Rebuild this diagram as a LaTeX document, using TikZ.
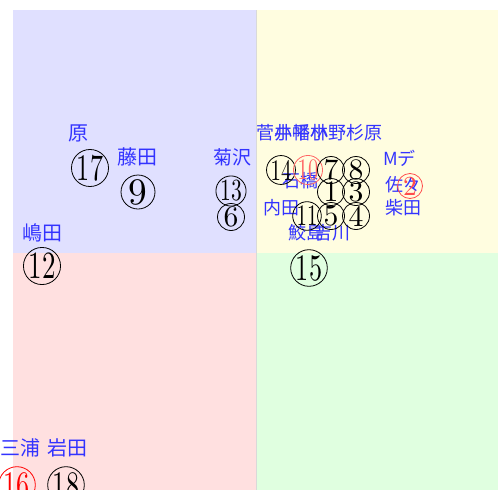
\documentclass[tikz,border=0pt]{standalone}
\usepackage{graphicx}
\usepackage{fontspec}
\newfontfamily\jp{Noto Sans CJK JP}
\newfontfamily\numfont{lmroman10-regular}[Extension=.otf]
\newcommand{\twodig}[1]{\scalebox{0.7}[1]{#1}}
\begin{document}
\begin{tikzpicture}[x=1pt,y=-1pt]
	% Define the styles for the ranks and the names
	\tikzset{
		rank/.style={circle, draw, line width=0.8pt, inner sep=0pt, minimum size=#1pt,
			font={\numfont\pgfmathsetmacro\fs{1.1*#1}\fontsize{\fs}{\fs}\selectfont}},
		who/.style={anchor=west, inner sep=0pt, text=blue!80,
			font=\jp\fontsize{#1}{#1}\selectfont}
	}
	\useasboundingbox (0,0) rectangle (501,490);
	
	% Draw the four coloured quadrants
	\fill[blue!12] (13,10) rectangle (256,253);
	\fill[yellow!12] (256,10) rectangle (498,253);
	\fill[red!12] (13,253) rectangle (256,490);
	\fill[green!12] (256,253) rectangle (498,490);
	\draw[black!15, line width=0.6pt] (256,10) -- (256,490);
	
	% Names
	\node[who=20] (hara) at (68,133) {原};
	\node[who=20] (fujita) at (117,157) {藤田};
	\node[who=19] (kikuzawa) at (213,157) {菊沢};
	\node[who=20] (shimada) at (22,233) {嶋田};
	\node[who=20] (miura) at (0,448) {三浦};
	\node[who=20] (iwata) at (47,448) {岩田};
	\node[who=18] (sugai) at (256,133) {菅井}; \node[who=18] (obata) at (274,133) {小幡};
	\node[who=18] (hirabayashi) at (292,133) {平林}; \node[who=18] (ono) at (310,133) {小野};
	\node[who=18] (sugihara) at (346,133) {杉原};
	\node[who=18] (mde) at (383,158) {M\jp デ};
	\node[who=18] (sasa) at (385,185) {佐々};
	\node[who=18] (shibata) at (385,208) {柴田};
	\node[who=18] (uchida) at (263,208) {内田};
	\node[who=18] (ishibashi) at (282,181) {石橋};
	\node[who=18] (samejima) at (288,233) {鮫島};
	\node[who=18] (yoshikawa) at (314,233) {吉川};
	
	% Ranks
	\node[rank=34] (c17) at (90,168) {\twodig{17}};
	\node[rank=34] (c9) at (138,192) {9};
	\node[rank=28] (c13) at (231,191) {\twodig{13}};
	\node[rank=27] (c6) at (231,217) {6};
	\node[rank=35] (c12) at (42,266) {\twodig{12}};
	\node[rank=34, red] (c16) at (17,485) {\twodig{16}};
	\node[rank=34] (c18) at (66,485) {\twodig{18}};
	\node[rank=27] (c14) at (281,170) {\twodig{14}}; \node[rank=27, red!60] (c10) at (308,170) {\twodig{10}};
	\node[rank=27] (c7) at (331,170) {7}; \node[rank=27] (c8) at (356,170) {8};
	\node[rank=27] (c1) at (331,192) {1}; \node[rank=27] (c3) at (356,192) {3};
	\node[rank=27] (c11) at (307,216) {\twodig{11}}; \node[rank=27] (c5) at (331,216) {5};
	\node[rank=27] (c4) at (356,216) {4};
	\node[rank=25, red!70] (c2) at (410,186) {2};
	\node[rank=34] (c15) at (309,268) {\twodig{15}};
\end{tikzpicture}
\end{document}
